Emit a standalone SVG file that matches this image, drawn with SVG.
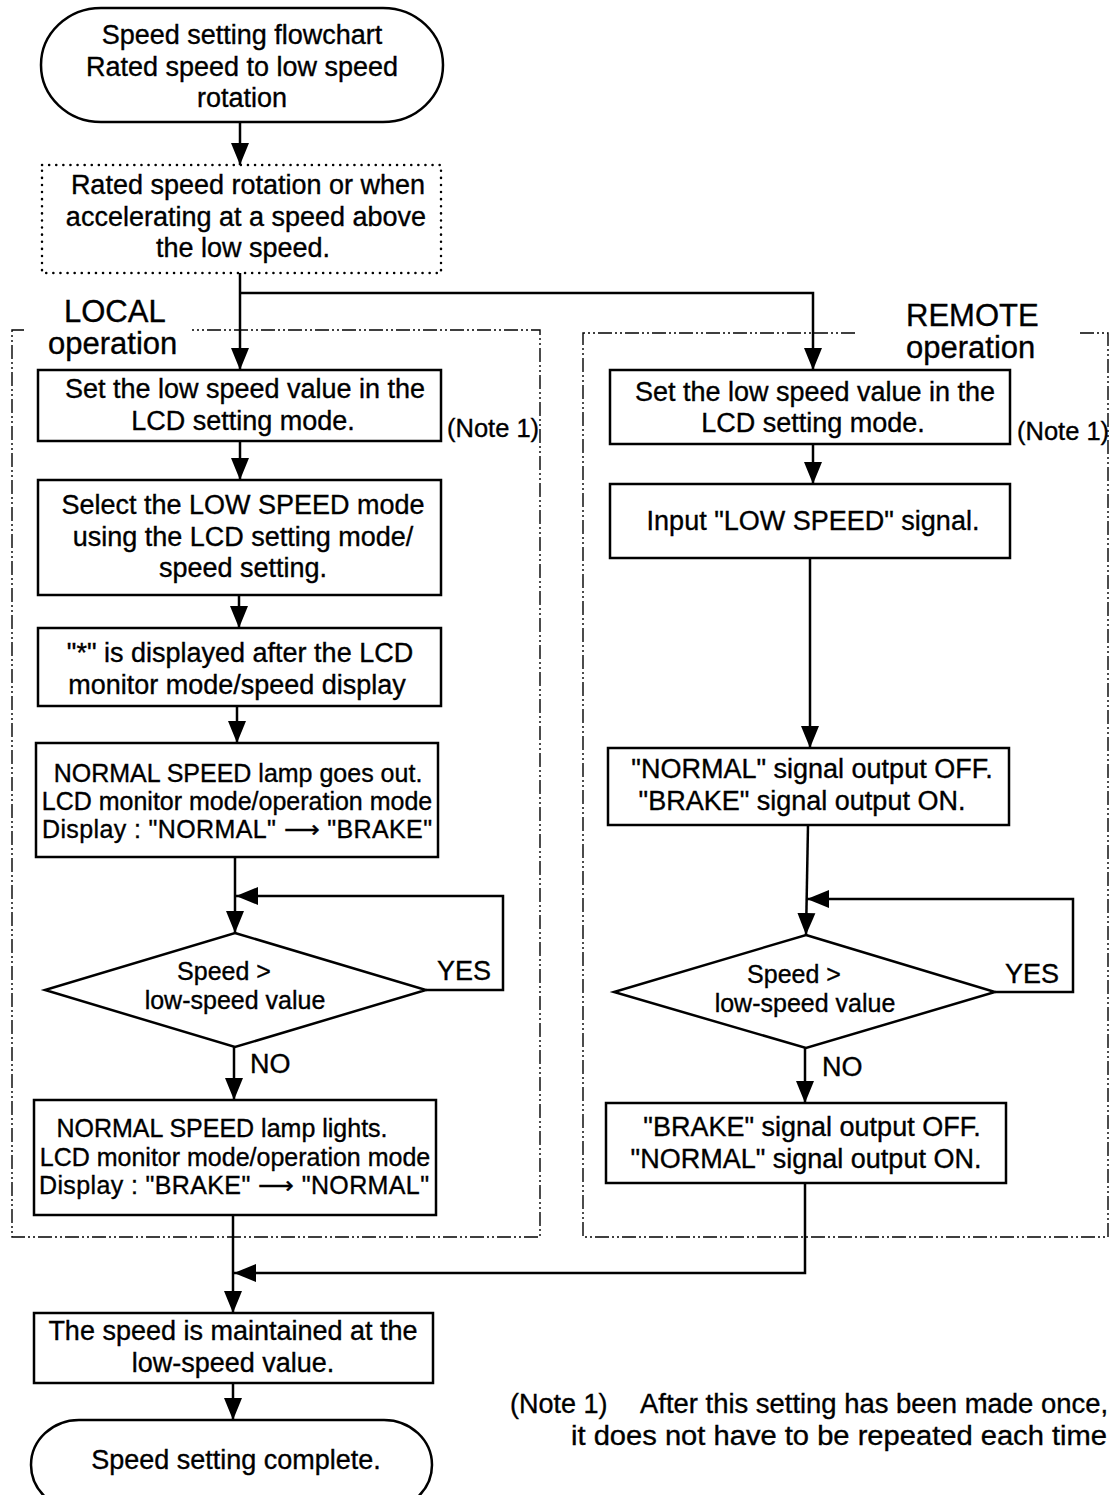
<svg xmlns="http://www.w3.org/2000/svg" width="1110" height="1495" viewBox="0 0 1110 1495">
<defs>
<marker id="ah" markerUnits="userSpaceOnUse" markerWidth="24" markerHeight="24" viewBox="0 0 24 24" refX="22" refY="12" orient="auto">
<path d="M0,3 L22,12 L0,21 Z" fill="#000"/>
</marker>
<style>
.box{fill:#fff;stroke:#000;stroke-width:2.5}
.dot{fill:none;stroke:#000;stroke-width:2.5;stroke-dasharray:0.1 7;stroke-linecap:round}
.grp{fill:none;stroke:#000;stroke-width:1.4;stroke-dasharray:14 3 2 3 2 3}
.con{fill:none;stroke:#000;stroke-width:2.5}
.arr{marker-end:url(#ah)}
text{font-family:"Liberation Sans",Arial,sans-serif;fill:#000;stroke:#000;stroke-width:0.35}
.t{font-size:27px;text-anchor:middle}
.s{font-size:25px;text-anchor:middle}
.d{font-size:25px;text-anchor:middle}
.lbl{font-size:31px;text-anchor:start}
.n{font-size:25.5px}
.nb{font-size:27px}
.yn{font-size:27px}
</style>
</defs>
<rect width="1110" height="1495" fill="#fff"/>

<g id="groups">
<path class="grp" d="M24,330 H12 V1237 H540 V330 H192"/>
<path class="grp" d="M855,333 H583 V1237 H1108 V333 H1080"/>
</g>

<g id="connectors">
<line class="con arr" x1="240" y1="122" x2="240" y2="165"/>
<line class="con arr" x1="240" y1="273" x2="240" y2="370"/>
<path class="con arr" d="M240,293 H813 V370"/>
<line class="con arr" x1="240" y1="441" x2="240" y2="480"/>
<line class="con arr" x1="239" y1="595" x2="239" y2="628"/>
<line class="con arr" x1="237" y1="706" x2="237" y2="743"/>
<line class="con arr" x1="235" y1="857" x2="235" y2="933"/>
<path class="con arr" d="M426,990 H503 V896 H236"/>
<line class="con arr" x1="234" y1="1047" x2="234" y2="1100"/>
<line class="con arr" x1="233" y1="1215" x2="233" y2="1313"/>
<path class="con arr" d="M805,1183 V1273 H234"/>
<line class="con arr" x1="233" y1="1383" x2="233" y2="1420"/>
<line class="con arr" x1="813" y1="444" x2="813" y2="484"/>
<line class="con arr" x1="810" y1="558" x2="810" y2="748"/>
<line class="con arr" x1="808" y1="825" x2="806" y2="935"/>
<path class="con arr" d="M995,992 H1073 V899 H807"/>
<line class="con arr" x1="805" y1="1048" x2="805" y2="1103"/>
</g>

<g id="start">
<rect class="box" x="41" y="8" width="402" height="114" rx="60" ry="57"/>
<text class="t" x="242" y="44">Speed setting flowchart</text>
<text class="t" x="242" y="76">Rated speed to low speed</text>
<text class="t" x="242" y="107">rotation</text>
</g>

<g id="precondition">
<rect class="dot" x="42" y="165" width="399" height="108"/>
<text class="t" x="248" y="194">Rated speed rotation or when</text>
<text class="t" x="246" y="226">accelerating at a speed above</text>
<text class="t" x="243" y="257">the low speed.</text>
</g>

<g id="local-label">
<text class="lbl" x="64" y="322">LOCAL</text>
<text class="lbl" x="48" y="354">operation</text>
</g>
<g id="remote-label">
<text class="lbl" x="906" y="326">REMOTE</text>
<text class="lbl" x="906" y="358">operation</text>
</g>

<g id="L1">
<rect class="box" x="38" y="370" width="403" height="71"/>
<text class="t" x="245" y="398">Set the low speed value in the</text>
<text class="t" x="243" y="430">LCD setting mode.</text>
</g>
<text id="note-L" class="n" x="447" y="437">(Note 1)</text>

<g id="L2">
<rect class="box" x="38" y="480" width="403" height="115"/>
<text class="t" x="243" y="514">Select the LOW SPEED mode</text>
<text class="t" x="243" y="546">using the LCD setting mode/</text>
<text class="t" x="243" y="577">speed setting.</text>
</g>

<g id="L3">
<rect class="box" x="38" y="628" width="403" height="78"/>
<text class="t" x="240" y="662">"*" is displayed after the LCD</text>
<text class="t" x="237" y="694">monitor mode/speed display</text>
</g>

<g id="L4">
<rect class="box" x="36" y="743" width="402" height="114"/>
<text class="s" x="238" y="782">NORMAL SPEED lamp goes out.</text>
<text class="s" x="237" y="810">LCD monitor mode/operation mode</text>
<text class="s" x="237" y="838" textLength="390" lengthAdjust="spacing">Display : "NORMAL" ⟶ "BRAKE"</text>
</g>

<g id="LD">
<polygon class="box" points="235,933 426,990 235,1047 45,990"/>
<text class="d" x="224" y="980">Speed &gt;</text>
<text class="d" x="235" y="1009">low-speed value</text>
<text class="yn" x="437" y="980">YES</text>
<text class="yn" x="250" y="1073">NO</text>
</g>

<g id="L5">
<rect class="box" x="34" y="1100" width="402" height="115"/>
<text class="s" x="222" y="1137">NORMAL SPEED lamp lights.</text>
<text class="s" x="235" y="1166">LCD monitor mode/operation mode</text>
<text class="s" x="234" y="1194" textLength="390" lengthAdjust="spacing">Display : "BRAKE" ⟶ "NORMAL"</text>
</g>

<g id="L6">
<rect class="box" x="34" y="1313" width="399" height="70"/>
<text class="t" x="233" y="1340">The speed is maintained at the</text>
<text class="t" x="233" y="1372">low-speed value.</text>
</g>

<g id="end">
<rect class="box" x="31" y="1420" width="401" height="90" rx="48" ry="45"/>
<text class="t" x="236" y="1469">Speed setting complete.</text>
</g>

<g id="R1">
<rect class="box" x="610" y="370" width="400" height="74"/>
<text class="t" x="815" y="401">Set the low speed value in the</text>
<text class="t" x="813" y="432">LCD setting mode.</text>
</g>
<text id="note-R" class="n" x="1017" y="440">(Note 1)</text>

<g id="R2">
<rect class="box" x="610" y="484" width="400" height="74"/>
<text class="t" x="813" y="530">Input "LOW SPEED" signal.</text>
</g>

<g id="R3">
<rect class="box" x="608" y="748" width="401" height="77"/>
<text class="t" x="812" y="778">"NORMAL" signal output OFF.</text>
<text class="t" x="802" y="810">"BRAKE" signal output ON.</text>
</g>

<g id="RD">
<polygon class="box" points="806,935 995,992 806,1048 614,992"/>
<text class="d" x="794" y="983">Speed &gt;</text>
<text class="d" x="805" y="1012">low-speed value</text>
<text class="yn" x="1005" y="983">YES</text>
<text class="yn" x="822" y="1076">NO</text>
</g>

<g id="R4">
<rect class="box" x="606" y="1103" width="400" height="80"/>
<text class="t" x="812" y="1136">"BRAKE" signal output OFF.</text>
<text class="t" x="806" y="1168">"NORMAL" signal output ON.</text>
</g>

<g id="note">
<text class="nb" x="510" y="1413">(Note 1)</text>
<text class="nb" x="640" y="1413" textLength="468" lengthAdjust="spacingAndGlyphs">After this setting has been made once,</text>
<text class="nb" x="571" y="1445" textLength="536" lengthAdjust="spacingAndGlyphs">it does not have to be repeated each time</text>
</g>
</svg>
